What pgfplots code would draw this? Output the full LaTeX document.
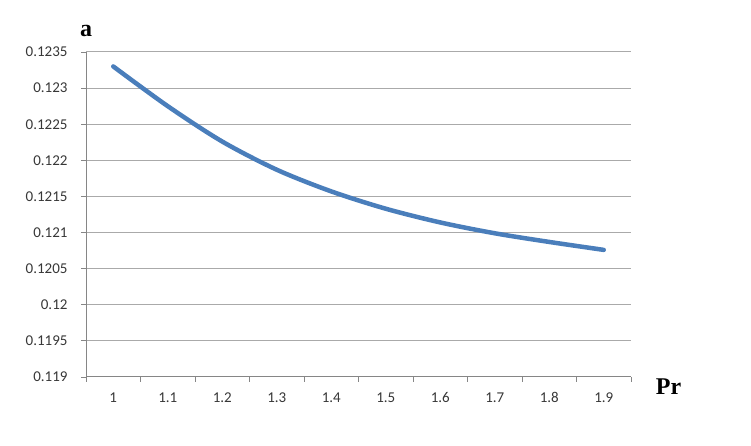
\documentclass[border=0pt]{standalone}
\usepackage{fontspec}
\setmainfont{Carlito}
\newfontfamily\labelfont{Liberation Serif}
\usepackage{pgfplots}
\pgfplotsset{compat=1.18}
\definecolor{serieblue}{HTML}{4A7EBB}
\definecolor{axisgray}{RGB}{134,134,134}
\definecolor{gridgray}{RGB}{170,170,170}
\definecolor{ticktext}{RGB}{55,55,55}
\begin{document}
\begin{tikzpicture}[x=1pt,y=1pt]
\path[use as bounding box] (0,0) rectangle (751,446);
\begin{axis}[
    at={(86pt,69pt)}, anchor=south west,
    scale only axis,
    width=545pt, height=325pt,
    xmin=-0.5, xmax=9.5,
    ymin=0.119, ymax=0.1235,
    axis x line*=bottom, axis y line*=left,
    axis line style={axisgray, line width=1pt, -},
    xtick={0,1,...,9},
    xticklabels={1,1.1,1.2,1.3,1.4,1.5,1.6,1.7,1.8,1.9},
    minor xtick={-0.5,0.5,...,9.5},
    major x tick style={draw=none},
    minor x tick style={axisgray, line width=0.8pt},
    minor tick length=5pt,
    ytick={0.119,0.1195,0.12,0.1205,0.121,0.1215,0.122,0.1225,0.123,0.1235},
    yticklabels={0.119,0.1195,0.12,0.1205,0.121,0.1215,0.122,0.1225,0.123,0.1235},
    major y tick style={axisgray, line width=0.8pt},
    major tick length=5pt,
    tick align=outside,
    ymajorgrids,
    grid style={gridgray, line width=1pt},
    tick label style={font=\fontsize{15pt}{17pt}\selectfont, text=ticktext},
    xticklabel style={anchor=base, yshift=-21pt},
    yticklabel style={xshift=-10pt},
    clip=false,
]
\addplot[serieblue, line width=4.5pt, smooth, line cap=round] coordinates {
(0,0.12330) (1,0.12275) (2,0.12226) (3,0.12187) (4,0.12157)
(5,0.12133) (6,0.12114) (7,0.12099) (8,0.12087) (9,0.12076)
};
\node[anchor=base, font=\labelfont\bfseries\fontsize{24}{28}\selectfont] at (rel axis cs:0,1.049) {a};
\node[anchor=base, font=\labelfont\bfseries\fontsize{24}{28}\selectfont] at (rel axis cs:1.069,-0.055) {Pr};
\end{axis}
\end{tikzpicture}
\end{document}
